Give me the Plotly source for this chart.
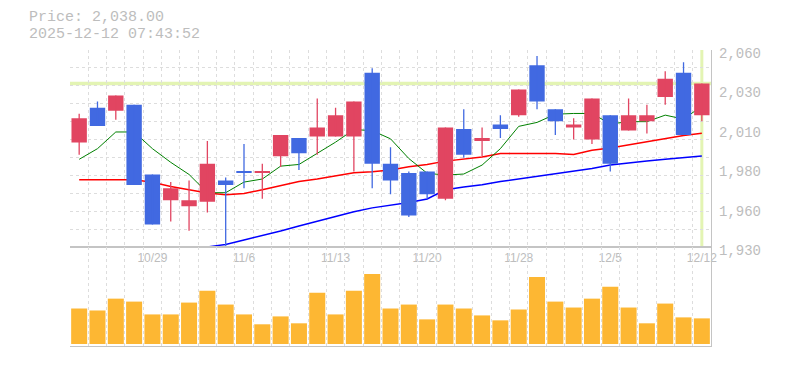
import plotly.graph_objects as go

# ---------------- data ----------------
dates = ["10/23", "10/24", "10/27", "10/28", "10/29", "10/30", "10/31",
         "11/4", "11/5", "11/6", "11/7", "11/10", "11/11", "11/12", "11/13",
         "11/14", "11/17", "11/18", "11/19", "11/20", "11/21", "11/25",
         "11/26", "11/27", "11/28", "12/1", "12/2", "12/3", "12/4", "12/5",
         "12/8", "12/9", "12/10", "12/11", "12/12"]

opens = [1999, 2022, 2020, 2024, 1978, 1961, 1957, 1960, 1974, 1980, 1979,
         1990, 2002, 2003, 2003, 2003, 2045, 1985, 1979, 1980, 1962, 2008,
         2000, 2011, 2017, 2050, 2021, 2009, 2001, 2017, 2007, 2013, 2029,
         2045, 2017]
highs = [2018, 2026, 2030, 2024, 1978, 1973, 1974, 2000, 1976, 1998, 1985,
         2004, 2002, 2028, 2022, 2026, 2048, 1996, 1980, 1980, 2009, 2021,
         2009, 2017, 2034, 2056, 2021, 2015, 2028, 2017, 2028, 2024, 2046,
         2052, 2038]
lows = [1991, 2010, 2014, 1971, 1945, 1947, 1941, 1953, 1930, 1969, 1962,
        1983, 1981, 1991, 2003, 1980, 1969, 1965, 1950, 1962, 1961, 1989,
        1990, 2002, 2016, 2021, 2004, 2001, 1998, 1980, 2007, 2005, 2024,
        2004, 2013]
closes = [2015, 2010, 2030, 1971, 1945, 1969, 1961, 1985, 1971, 1979, 1980,
          2004, 1992, 2009, 2017, 2026, 1985, 1974, 1951, 1965, 2009, 1991,
          2002, 2008, 2034, 2026, 2013, 2011, 2028, 1985, 2017, 2017, 2041,
          2004, 2038]

ma5 = [1988, 1995, 2006, 2006, 1995, 1986, 1978, 1966, 1966, 1973, 1975,
       1983.5, 1984.6, 1991.8, 1999.3, 2007.6, 2006.9, 2001.5, 1988.5, 1978.8,
       1977.6, 1978.3, 1984.2, 1995, 2009.7, 2012.3, 2017.7, 2018.2, 2018.2,
       2011.3, 2012.8, 2012.8, 2017.1, 2014.5, 2023]
ma25 = [1974.6, 1974.6, 1975, 1974.6, 1972.9, 1970.1, 1967.9, 1965.8, 1964.7,
        1965.5, 1967.9, 1970.5, 1973.3, 1975, 1977.2, 1979.2, 1979.8, 1980.9,
        1983.1, 1984.6, 1986.8, 1988.1, 1989.5, 1991.8, 1991.8, 1991.8,
        1991.8, 1991.1, 1993.9, 1995.4, 1997.6, 1999.8, 2001.5, 2003.7, 2005.2]
ma75 = [None, None, None, None, None, None, None, 1930.3, 1931.9, 1934.8,
        1937.6, 1940.8, 1944.1, 1947.3, 1950.6, 1953.4, 1956, 1957.5, 1959.5,
        1961.9, 1967.9, 1969.7, 1971.2, 1973.3, 1975, 1977, 1978.8, 1980.3,
        1982, 1984.2, 1985.7, 1986.8, 1988.1, 1989.2, 1990.2]

volumes = [360, 340, 460, 430, 300, 300, 420, 540, 400, 300, 200, 280, 210,
           520, 300, 540, 710, 360, 400, 250, 400, 360, 290, 240, 350, 680,
           430, 370, 460, 580, 370, 210, 410, 270, 260]

price_tick_vals = [2060, 2034, 2008, 1982, 1956, 1930]
price_tick_text = ["2,060", "2,030", "2,010", "1,980", "1,960", "1,930"]
date_labels = ["10/29", "11/6", "11/13", "11/20", "11/28", "12/5", "12/12"]

crosshair_price = 2038.0
crosshair_date = "12/12"
title_line1 = "Price: 2,038.00"
title_line2 = "2025-12-12 07:43:52"

price_range = [1930, 2060]
vol_range = [-20, 980]

# ---------------- styling ----------------
UP = "#e14561"
DOWN = "#4169e1"
VOL = "#fdb733"
GRID = "#dddddd"
AXIS = "#c4c4c4"
TXT = "#bdbdbd"
CROSS = "#e3f4b3"

idx = list(range(len(dates)))
xr = [-0.5, len(dates) - 0.5]

bases = [min(o, c) for o, c in zip(opens, closes)]
heights = [max(abs(c - o), 0.9) for o, c in zip(opens, closes)]
colors = [UP if c >= o else DOWN for o, c in zip(opens, closes)]

fig = go.Figure()

# moving averages (main subplot, beneath candles)
fig.add_trace(go.Scatter(x=idx, y=ma75, mode="lines", line=dict(color="#0000ff", width=1.5),
                         xaxis="x", yaxis="y", hoverinfo="skip"))
fig.add_trace(go.Scatter(x=idx, y=ma25, mode="lines", line=dict(color="#ff0000", width=1.5),
                         xaxis="x", yaxis="y", hoverinfo="skip"))
fig.add_trace(go.Scatter(x=idx, y=ma5, mode="lines", line=dict(color="#008000", width=1),
                         xaxis="x", yaxis="y", hoverinfo="skip"))

# candle bodies (overlay subplot, on top)
fig.add_trace(go.Bar(x=idx, y=heights, base=bases, width=0.84,
                     marker=dict(color=colors, line=dict(width=0)),
                     xaxis="x3", yaxis="y3", hoverinfo="skip"))
# wicks
for col in (UP, DOWN):
    wx, wy = [], []
    for i, (h, l, c) in enumerate(zip(highs, lows, colors)):
        if c == col:
            wx += [i, i, None]
            wy += [l, h, None]
    fig.add_trace(go.Scatter(x=wx, y=wy, mode="lines", line=dict(color=col, width=1.3),
                             xaxis="x3", yaxis="y3", hoverinfo="skip"))

# volume
fig.add_trace(go.Bar(x=idx, y=volumes, width=0.875, marker=dict(color=VOL, line=dict(width=0)),
                     xaxis="x2", yaxis="y2", hoverinfo="skip"))

grid_common = dict(showgrid=True, gridcolor=GRID, griddash="3px,3px", gridwidth=1,
                   zeroline=False, ticks="", showticklabels=False)

fig.update_layout(
    width=777, height=362,
    margin=dict(l=62, r=74, t=42, b=20),
    paper_bgcolor="white", plot_bgcolor="white",
    showlegend=False, barmode="overlay",
    xaxis=dict(domain=[0, 1], anchor="y", range=[xr[0] - 0.001, xr[1]],
               tickmode="linear", tick0=-0.5, dtick=1,
               showline=True, linecolor=AXIS, linewidth=1, **grid_common),
    yaxis=dict(domain=[1 / 3, 1], anchor="x", side="right",
               range=[price_range[0], price_range[1] + 0.01],
               tickmode="linear", tick0=price_range[0], dtick=(price_range[1] - price_range[0]) / 11,
               showline=True, linecolor=AXIS, linewidth=1, **grid_common),
    xaxis3=dict(overlaying="x", anchor="y", range=[xr[0] - 0.001, xr[1]],
                tickmode="array", tickvals=[dates.index(d) for d in date_labels],
                ticktext=date_labels, showgrid=False, zeroline=False, showline=False,
                ticks="", ticklabelstandoff=2,
                tickfont=dict(family="Liberation Sans", size=12, color=TXT)),
    yaxis3=dict(overlaying="y", anchor="x", side="right",
                range=[price_range[0], price_range[1] + 0.01],
                tickmode="array", tickvals=price_tick_vals, ticktext=price_tick_text,
                showgrid=False, zeroline=False, showline=False, ticks="",
                ticklabelstandoff=7, ticklabelshift=3,
                tickfont=dict(family="Liberation Mono", size=14, color=TXT)),
    xaxis2=dict(domain=[0, 1], anchor="y2", range=[xr[0] - 0.001, xr[1]],
                tickmode="linear", tick0=-0.5, dtick=1,
                showline=True, mirror=True, linecolor=AXIS, linewidth=1, **grid_common),
    yaxis2=dict(domain=[0, 1 / 3], anchor="x2", side="right", range=vol_range,
                showgrid=False, zeroline=False, showticklabels=False, ticks="",
                showline=True, linecolor=AXIS, linewidth=1),
    shapes=[
        dict(type="line", layer="below", xref="x domain", x0=0, x1=1,
             yref="y", y0=crosshair_price, y1=crosshair_price,
             line=dict(color=CROSS, width=3.5)),
        dict(type="line", layer="below", xref="x", x0=dates.index(crosshair_date),
             x1=dates.index(crosshair_date), yref="y domain", y0=0, y1=1,
             line=dict(color=CROSS, width=3)),
    ],
    annotations=[
        dict(text=title_line1, xref="paper", yref="paper", x=-42 / 641, y=(350 - 17) / 300,
             xanchor="left", yanchor="middle", showarrow=False, borderpad=0,
             font=dict(family="Liberation Mono", size=15, color=TXT)),
        dict(text=title_line2, xref="paper", yref="paper", x=-42 / 641, y=(350 - 34) / 300,
             xanchor="left", yanchor="middle", showarrow=False, borderpad=0,
             font=dict(family="Liberation Mono", size=15, color=TXT)),
    ],
)

fig.write_html("out.html")
